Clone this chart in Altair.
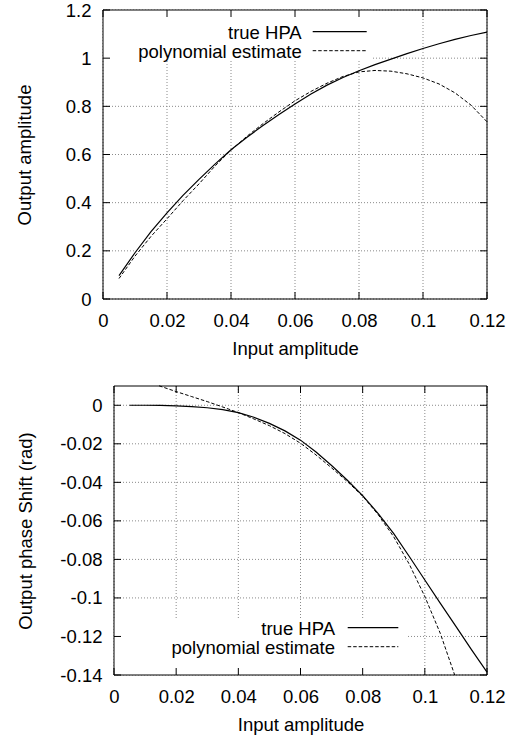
import altair as alt
import pandas as pd

# ---------------- data ----------------
x_vals = [0.005, 0.010, 0.015, 0.020, 0.025, 0.030, 0.035, 0.040, 0.045, 0.050,
          0.055, 0.060, 0.065, 0.070, 0.075, 0.080, 0.085, 0.090, 0.095, 0.100,
          0.105, 0.110, 0.115, 0.120]
amp_true = [0.097, 0.192, 0.280, 0.358, 0.430, 0.497, 0.560, 0.620, 0.672, 0.720,
            0.766, 0.810, 0.851, 0.888, 0.920, 0.948, 0.973, 0.996, 1.019, 1.040,
            1.060, 1.078, 1.094, 1.108]
amp_poly = [0.085, 0.178, 0.260, 0.333, 0.408, 0.478, 0.552, 0.618, 0.676, 0.728,
            0.777, 0.823, 0.862, 0.896, 0.924, 0.943, 0.949, 0.946, 0.935, 0.918,
            0.893, 0.856, 0.805, 0.736]

ph_true = [0.0, 0.0, -0.0001, -0.0003, -0.0007, -0.0013, -0.0023, -0.0038, -0.0062, -0.0094,
           -0.0133, -0.0181, -0.0243, -0.0313, -0.0388, -0.0469, -0.0562, -0.0666, -0.0785, -0.0907,
           -0.1028, -0.1148, -0.1268, -0.1385]
ph_poly_x = [0.0145, 0.020, 0.025, 0.030, 0.035, 0.040, 0.045, 0.050, 0.055, 0.060,
             0.065, 0.070, 0.075, 0.080, 0.085, 0.090, 0.095, 0.100, 0.105, 0.1096]
ph_poly = [0.0101, 0.0071, 0.0045, 0.0019, -0.0009, -0.0038, -0.0071, -0.0106, -0.0147, -0.0197,
           -0.0258, -0.0325, -0.0395, -0.0472, -0.0568, -0.0683, -0.0825, -0.0993, -0.1185, -0.1400]

x_ticks = [0, 0.02, 0.04, 0.06, 0.08, 0.1, 0.12]
amp_ticks = [0, 0.2, 0.4, 0.6, 0.8, 1.0, 1.2]
ph_ticks = [0, -0.02, -0.04, -0.06, -0.08, -0.1, -0.12, -0.14]
legend_labels = ["true HPA", "polynomial estimate"]
x_title = "Input amplitude"
y_titles = ["Output amplitude", "Output phase Shift (rad)"]

# ---------------- style ----------------
FONT = "Liberation Sans"
FS = 18.5
W = 384
H = 289
GRID = "#8a8a8a"
TICK = 7
ONE = alt.Data(values=[{"k": 1}])


def panel(curve_true, curve_poly, y_domain, y_ticks, y_title, x0, title_x,
          box, leg_text_x, leg_line, leg_y):
    xscale = alt.Scale(domain=[0, 0.12], range=[x0, W], nice=False, zero=False)
    yscale = alt.Scale(domain=y_domain, nice=False, zero=False)
    xaxis = alt.Axis(values=x_ticks, grid=False, ticks=False, tickSize=0, domain=False,
                     labelFont=FONT, labelFontSize=FS, labelColor="black", labelPadding=12,
                     labelFlush=False, labelOverlap=False, labelExpr="'' + datum.value",
                     title=x_title, titleFont=FONT, titleFontSize=FS, titleFontWeight="normal",
                     titleColor="black", titleX=(x0 + W) / 2, titleY=55,
                     titleBaseline="alphabetic", titleAlign="center")
    yaxis = alt.Axis(values=y_ticks, grid=False, ticks=False, tickSize=0, domain=False,
                     offset=-x0,
                     labelFont=FONT, labelFontSize=FS, labelColor="black", labelPadding=12,
                     labelFlush=False, labelOverlap=False, labelExpr="'' + datum.value",
                     title=y_title, titleFont=FONT, titleFontSize=FS, titleFontWeight="normal",
                     titleColor="black", titleAngle=270, titleX=title_x, titleY=H / 2,
                     titleBaseline="alphabetic", titleAlign="center")
    X = alt.X("x:Q", scale=xscale, axis=xaxis)
    Y = alt.Y("y:Q", scale=yscale, axis=yaxis)

    xt = pd.DataFrame({"x": x_ticks})
    yt = pd.DataFrame({"y": y_ticks})

    vgrid = alt.Chart(xt).mark_rule(color=GRID, strokeDash=[1, 2], strokeWidth=1).encode(
        x=X, y=alt.value(0), y2=alt.value(H))
    hgrid = alt.Chart(yt).mark_rule(color=GRID, strokeDash=[1, 2], strokeWidth=1).encode(
        y=Y, x=alt.value(x0), x2=alt.value(W))
    legbox = alt.Chart(ONE).mark_rect(fill="white").encode(
        x=alt.value(box[0]), x2=alt.value(box[1]), y=alt.value(box[2]), y2=alt.value(box[3]))

    d_true = pd.DataFrame({"x": curve_true[0], "y": curve_true[1]})
    d_poly = pd.DataFrame({"x": curve_poly[0], "y": curve_poly[1]})
    l_true = alt.Chart(d_true).mark_line(color="black", strokeWidth=1.2).encode(x=X, y=Y)
    l_poly = alt.Chart(d_poly).mark_line(color="black", strokeWidth=1,
                                         strokeDash=[3.5, 2]).encode(x=X, y=Y)

    border = alt.Chart(ONE).mark_rect(fillOpacity=0, stroke="black", strokeWidth=1).encode(
        x=alt.value(x0), x2=alt.value(W), y=alt.value(0), y2=alt.value(H))
    tb = alt.Chart(xt).mark_rule(color="black").encode(x=X, y=alt.value(H), y2=alt.value(H - TICK))
    tt = alt.Chart(xt).mark_rule(color="black").encode(x=X, y=alt.value(0), y2=alt.value(TICK))
    tl = alt.Chart(yt).mark_rule(color="black").encode(y=Y, x=alt.value(x0), x2=alt.value(x0 + TICK))
    tr = alt.Chart(yt).mark_rule(color="black").encode(y=Y, x=alt.value(W - TICK), x2=alt.value(W))

    layers = [vgrid, hgrid, legbox, l_true, l_poly, border, tb, tt, tl, tr]
    for i, lab in enumerate(legend_labels):
        layers.append(alt.Chart(ONE).mark_text(
            text=lab, align="right", baseline="middle", font=FONT, fontSize=FS, color="black"
        ).encode(x=alt.value(leg_text_x), y=alt.value(leg_y[i] + 1)))
        line = alt.Chart(ONE).mark_rule(
            color="black", strokeWidth=1.2 if i == 0 else 1,
            strokeDash=[1, 0] if i == 0 else [3.5, 2]
        ).encode(x=alt.value(leg_line[0]), x2=alt.value(leg_line[1]), y=alt.value(leg_y[i]))
        layers.append(line)

    return alt.layer(*layers).properties(width=W, height=H)


top = panel((x_vals, amp_true), (x_vals, amp_poly), [0, 1.2], amp_ticks, y_titles[0],
            0, -73, (0, 269, 0, 49), 198.7, (209.7, 263.7), (21.7, 40.7))
bottom = panel((x_vals, ph_true), (ph_poly_x, ph_poly), [-0.14, 0.01], ph_ticks, y_titles[1],
               11, -82.5, (11, 305, 232, 289), 232, (244.7, 295.3), (241.7, 260.7))

chart = alt.vconcat(top, bottom, spacing=25).properties(
    padding={"left": 15, "top": 1, "right": 5, "bottom": 2}
).configure_view(stroke=None)

chart.save("out.html", embed_options={"renderer": "svg", "actions": False})
